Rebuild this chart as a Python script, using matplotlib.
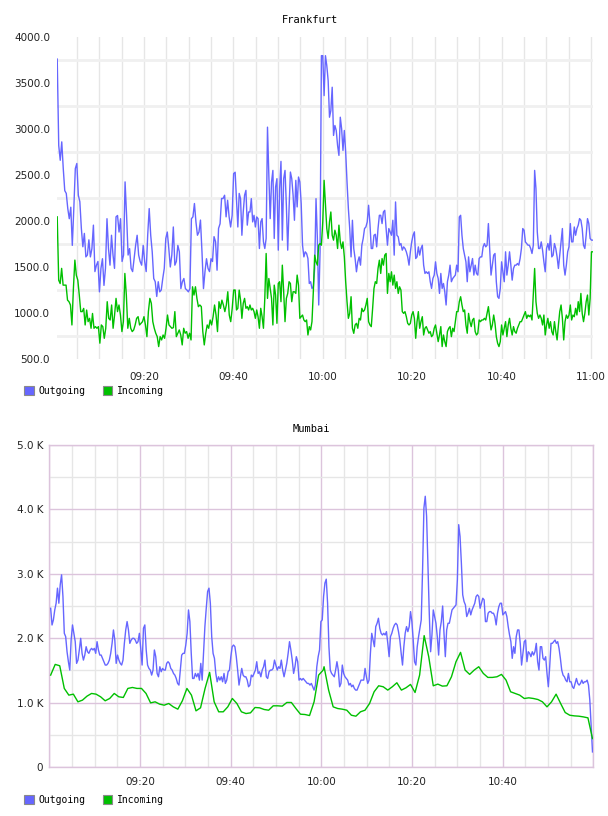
import numpy as np
import matplotlib
matplotlib.use("Agg")
import matplotlib.pyplot as plt
from matplotlib.patches import Patch
from matplotlib.ticker import FuncFormatter

# Frankfurt traffic, read in three stretches of the 09:00-11:00 window
fra_out_1 = [3760, 2820, 2660, 2860, 2570, 2330, 2300, 2135, 2025, 2150, 1735, 2135, 2570, 2625, 2280, 2210,
             1920, 1720, 1865, 1610, 1630, 1795, 1610, 1700, 1955, 1450, 1520, 1560, 1230, 1485, 1590, 1300,
             1485, 2025, 1700, 1520, 1845, 1630, 1485, 2045, 2060, 1880, 2025, 1560, 1630, 2425, 2060, 1630,
             1700, 1485, 1450, 1590, 1735, 1845, 1630, 1560, 1520, 1735, 1560, 1450, 1845, 2135, 1845, 1665,
             1375, 1340, 1180, 1340, 1230, 1250, 1375, 1485, 1810, 1880, 1700, 1500, 1630, 1935, 1520, 1560,
             1735, 1665, 1265, 1340, 1375, 1265, 1250, 1230, 1265, 2025, 2045, 2190, 1990, 1845, 1880, 2010,
             1665, 1265, 1450, 1590, 1485, 1450, 1590, 1560, 1830, 1775, 1465, 1920, 1970, 2245, 2245, 2280,
             2045, 2225, 2045, 1935, 2060, 2515, 2530]
fra_in_1 = [2045, 1357, 1320, 1485, 1303, 1303, 1303, 1140, 1123, 1087, 870, 1265, 1575, 1410, 1357, 1195,
            1015, 1015, 1050, 870, 1032, 906, 942, 834, 995, 834, 852, 834, 852, 672, 870, 852,
            725, 834, 1123, 942, 924, 1087, 834, 978, 1159, 1015, 1087, 978, 798, 906, 1430, 1195,
            834, 942, 834, 798, 816, 870, 942, 960, 870, 888, 906, 960, 870, 743, 1015, 1159,
            1105, 906, 834, 780, 743, 635, 743, 707, 761, 725, 834, 978, 870, 852, 834, 841,
            1015, 743, 780, 816, 761, 653, 834, 780, 798, 725, 780, 707, 1285, 1195, 1285, 1159,
            1069, 1087, 1069, 798, 653, 780, 870, 834, 924, 870, 960, 1087, 978, 798, 1123, 1050,
            1140, 1087, 1015, 1087, 1231, 978, 906, 1050, 1250, 1250]
fra_out_2 = [2530, 2243, 1935, 2300, 2243, 1845, 2098, 2280, 2333, 1955, 2098, 2098, 2243, 1990, 2062, 1935,
             2044, 2026, 1701, 1990, 2026, 1773, 1701, 1810, 3020, 2496, 2026, 2424, 2550, 1810, 2370, 2460,
             1683, 2352, 2648, 1792, 2460, 2550, 2171, 1683, 2135, 2532, 2460, 2280, 2008, 2442, 2153, 2478,
             2424, 2189, 1737, 1610, 1665, 1647, 1592, 1321, 1340, 1267, 1285, 1484, 2243, 1810, 1087, 1665,
             3797, 3797, 3363, 3797, 3688, 3526, 3128, 3200, 3454, 2930, 3038, 2984, 2821, 2713, 3128, 3002,
             2767, 2984, 2749, 2424, 2135, 1918, 1610, 2008, 1701, 1592, 1448, 1556, 1610, 1520, 1737, 1810,
             1918, 1935, 1990, 2171, 1972, 1701, 1701, 1845, 1856, 1719, 1918, 2062, 2062, 1972, 2098, 2116,
             1918, 1737, 1918, 1882, 1845, 2008, 1629, 2207, 1845, 1828, 1737, 1755, 1683, 1719, 1701, 1665,
             1610, 1520, 1665, 1773, 1845]
fra_in_2 = [1249, 1033, 1051, 1249, 1141, 942, 1105, 1159, 1051, 1069, 1033, 1087, 1033, 1051, 1015, 942,
            1033, 960, 834, 1051, 960, 834, 1159, 1647, 1159, 1375, 1267, 1159, 870, 1303, 1195, 888,
            1321, 1340, 1123, 1520, 1231, 906, 1159, 1213, 1340, 1321, 1123, 1231, 1231, 1213, 1412, 1303,
            942, 960, 978, 924, 906, 924, 761, 852, 816, 906, 1231, 1629, 1556, 1520, 1737, 1755,
            1737, 1990, 2442, 2171, 1918, 1810, 1990, 2098, 1845, 1792, 1900, 1845, 1701, 1955, 1773, 1701,
            1773, 1610, 1340, 1123, 942, 996, 1177, 834, 779, 870, 888, 834, 942, 924, 1051, 1015,
            1033, 1087, 1159, 906, 870, 852, 1051, 1267, 1340, 1321, 1484, 1574, 1430, 1592, 1520, 1629,
            1647, 1213, 1430, 1340, 1448, 1303, 1412, 1267, 1340, 1213, 1285, 1249, 1015, 996, 1015, 960,
            888, 870, 888, 978, 1015]
fra_out_3 = [1845, 1882, 1592, 1610, 1719, 1629, 1701, 1737, 1520, 1430, 1448, 1430, 1448, 1340, 1267, 1375,
             1412, 1556, 1430, 1375, 1213, 1430, 1267, 1321, 1231, 1087, 1340, 1412, 1520, 1340, 1375, 1394,
             1412, 1520, 1448, 2044, 2062, 1845, 1701, 1629, 1556, 1340, 1610, 1448, 1520, 1592, 1412, 1520,
             1430, 1412, 1592, 1610, 1610, 1719, 1755, 1719, 1737, 1972, 1701, 1412, 1520, 1629, 1647, 1340,
             1177, 1159, 1267, 1556, 1448, 1340, 1665, 1412, 1520, 1665, 1520, 1357, 1484, 1520, 1520, 1538,
             1520, 1592, 1701, 1918, 1900, 1773, 1755, 1737, 1737, 1701, 1647, 1737, 2550, 2352, 1882, 1701,
             1701, 1773, 1683, 1556, 1448, 1701, 1755, 1683, 1845, 1610, 1629, 1755, 1701, 1610, 1484, 1629,
             1773, 1918, 1520, 1412, 1520, 1665, 1719, 1972, 1773, 1773, 1935, 1845, 1918, 1955, 2026, 2008,
             1918, 1737, 1701, 1845, 2026, 1972, 1810, 1792, 1792]
fra_in_3 = [1015, 942, 725, 906, 1015, 834, 906, 960, 761, 834, 852, 816, 780, 798, 743, 761,
            834, 870, 780, 689, 761, 852, 635, 761, 689, 635, 798, 834, 852, 743, 834, 798,
            906, 1015, 1015, 1123, 1177, 1087, 1015, 1033, 870, 780, 996, 906, 852, 924, 942, 798,
            761, 780, 924, 906, 924, 924, 942, 924, 996, 1069, 942, 816, 870, 978, 888, 743,
            671, 635, 689, 870, 761, 834, 906, 743, 870, 942, 834, 761, 852, 798, 780, 834,
            870, 906, 906, 942, 978, 1015, 942, 978, 960, 978, 924, 1195, 1484, 1123, 996, 942,
            978, 942, 870, 978, 761, 870, 942, 834, 906, 798, 761, 906, 798, 707, 870, 1015,
            1087, 942, 707, 906, 978, 942, 978, 1087, 924, 978, 960, 1051, 978, 1123, 1015, 1213,
            996, 906, 996, 1123, 1195, 978, 1159, 1665, 1665]
# minutes after 09:00 covered by each stretch
fra_spans = [(0.6, 40.4), (40.4, 80.2), (80.2, 120.4)]

# Mumbai traffic, two stretches
mum_out_1 = [2465, 2205, 2284, 2439, 2543, 2777, 2543, 2829, 2984, 2647, 2076, 2024, 1790, 1635, 1505, 1972,
             2206, 2076, 1946, 1609, 1660, 1817, 1998, 1765, 1660, 1738, 1868, 1790, 1765, 1817, 1842, 1817,
             1842, 1765, 1946, 1817, 1738, 1738, 1687, 1635, 1583, 1583, 1609, 1660, 1765, 1920, 2128, 1972,
             1609, 1738, 1660, 1609, 1583, 1660, 1920, 2128, 2258, 2128, 1920, 1972, 1998, 1998, 1972, 1920,
             1946, 2076, 1842, 1583, 2154, 2206, 1817, 1583, 1531, 1505, 1427, 1505, 1817, 1713, 1453, 1401,
             1557, 1479, 1531, 1505, 1505, 1609, 1635, 1609, 1531, 1505, 1453, 1427, 1375, 1298, 1272, 1505,
             1738, 1765, 1765, 1894, 2076, 2439, 2258, 1765, 1375, 1375, 1453, 1401, 1453, 1349, 1609, 1349,
             1765, 2180, 2465, 2725, 2777, 2543, 2024, 1765, 1687, 1453, 1323, 1401, 1349, 1401, 1323, 1453,
             1298, 1349, 1479, 1505, 1713, 1868, 1894, 1868, 1713, 1505, 1272, 1401, 1531, 1427, 1401, 1401,
             1349, 1246, 1272, 1427, 1401, 1453, 1505, 1635, 1453, 1479, 1401, 1505, 1557, 1660, 1401, 1375,
             1479, 1505, 1505, 1531, 1660, 1583, 1505, 1557, 1531, 1660, 1505, 1401, 1505, 1609, 1765, 1946,
             1817, 1660, 1453, 1557, 1713, 1635, 1349, 1375, 1349, 1375, 1349, 1323, 1298, 1298, 1272, 1298,
             1246, 1194, 1272, 1557, 1713, 1817]
mum_out_2 = [2258, 2284, 2647, 2855, 2917, 2543, 1868, 1505, 1453, 1427, 1401, 1505, 1635, 1505, 1246, 1298,
             1583, 1453, 1401, 1375, 1349, 1272, 1298, 1246, 1272, 1220, 1194, 1194, 1246, 1298, 1349, 1349,
             1349, 1531, 1401, 1298, 1349, 1765, 2076, 1972, 1868, 2180, 2232, 2310, 2154, 2076, 2050, 2076,
             2050, 2102, 1920, 1713, 2024, 2076, 2154, 2206, 2232, 2206, 2102, 1972, 1765, 1583, 1868, 2076,
             2180, 2102, 2180, 2413, 2258, 1972, 1635, 1583, 1868, 2024, 2154, 2284, 3062, 4022, 4204, 3893,
             3114, 2388, 1790, 2050, 2439, 2336, 2232, 2024, 1738, 2128, 2258, 2500, 2076, 1713, 2128, 2232,
             2232, 2336, 2439, 2465, 2491, 2517, 2906, 3763, 3581, 3166, 2673, 2569, 2517, 2336, 2388, 2465,
             2362, 2439, 2491, 2543, 2647, 2673, 2647, 2465, 2543, 2621, 2595, 2258, 2258, 2388, 2413, 2413,
             2388, 2388, 2336, 2206, 2388, 2491, 2543, 2543, 2362, 2388, 2413, 2336, 2180, 2050, 1946, 1687,
             1868, 1765, 2024, 2128, 2128, 1920, 1583, 1765, 1946, 1972, 1635, 1790, 1765, 1713, 1790, 1738,
             1790, 1920, 1635, 1505, 1868, 1868, 1687, 1660, 1713, 1453, 1246, 1557, 1920, 1920, 1946, 1972,
             1920, 1946, 1842, 1687, 1505, 1427, 1401, 1349, 1323, 1453, 1323, 1323, 1246, 1220, 1298, 1375,
             1298, 1272, 1298, 1349, 1298, 1323, 1323, 1349, 1272, 1038, 623, 234]
mum_in_1 = [1427, 1593, 1572, 1220, 1116, 1131, 1012, 1038, 1100, 1142, 1131, 1090, 1028, 1064, 1142, 1090,
            1080, 1220, 1235, 1220, 1220, 1142, 996, 1012, 976, 960, 986, 934, 898, 1028, 1220, 1116,
            872, 919, 1220, 1469, 1012, 857, 857, 934, 1064, 986, 857, 830, 841, 924, 919, 893,
            882, 950, 950, 945, 1002, 1002, 908, 820, 815, 799, 1012, 1427, 1505]
mum_in_2 = [1557, 1194, 934, 908, 898, 882, 804, 789, 857, 882, 986, 1168, 1261, 1246, 1194, 1246,
            1308, 1194, 1230, 1282, 1157, 1427, 2040, 1713, 1261, 1287, 1256, 1261, 1401, 1635, 1780, 1505,
            1438, 1505, 1557, 1453, 1391, 1391, 1401, 1438, 1349, 1168, 1142, 1116, 1064, 1074, 1064, 1048,
            1012, 934, 1012, 1131, 986, 846, 804, 794, 789, 778, 763, 441]
mum_out_spans = [(0.3, 59.6), (59.9, 119.8)]
mum_in_spans = [(0.3, 60.4), (60.6, 119.8)]

fra_ticks = [20, 40, 60, 80, 100, 120]
fra_labels = ['09:20', '09:40', '10:00', '10:20', '10:40', '11:00']
mum_ticks = [0, 20, 40, 60, 80, 100, 120]
mum_labels = ['', '09:20', '09:40', '10:00', '10:20', '10:40', '']

OUT = '#6666ff'
IN = '#00c000'
MONO = 'DejaVu Sans Mono'


def stitch(parts, spans):
    t = np.concatenate([np.linspace(a, b, len(p)) for p, (a, b) in zip(parts, spans)])
    v = np.concatenate([np.asarray(p, dtype=float) for p in parts])
    return t, v


def legend(ax, x, y):
    hs = [Patch(facecolor=OUT, edgecolor='#8a8a8a', lw=0.8, label='Outgoing'),
          Patch(facecolor=IN, edgecolor='#8a8a8a', lw=0.8, label='Incoming')]
    ax.legend(handles=hs, loc='center left', bbox_to_anchor=(x, y), ncol=2, frameon=False,
              prop={'family': MONO, 'size': 7}, handlelength=1.0, handleheight=1.0,
              handletextpad=0.5, columnspacing=1.75, borderpad=0, borderaxespad=0)


W, H = 608, 816
fig = plt.figure(figsize=(W / 100, H / 100), dpi=100)

# ---- Frankfurt
ax1 = fig.add_axes([57 / W, 1 - 359 / H, 536 / W, 322 / H])
t, v = stitch([fra_out_1, fra_out_2, fra_out_3], fra_spans)
ax1.plot(t, v, color=OUT, lw=1.0, zorder=3)
t, v = stitch([fra_in_1, fra_in_2, fra_in_3], fra_spans)
ax1.plot(t, v, color=IN, lw=1.0, zorder=3)
ax1.set_xlim(0.55, 120.45)
ax1.set_ylim(500, 4000)
ax1.set_xticks(fra_ticks)
ax1.set_xticklabels(fra_labels)
ax1.set_xticks(np.arange(5, 121, 5), minor=True)
ax1.set_yticks(np.arange(500, 4001, 500))
ax1.set_yticks(np.arange(750, 4000, 500), minor=True)
ax1.yaxis.set_major_formatter(FuncFormatter(lambda y, p: '%.1f' % y))
ax1.grid(False)
ax1.grid(which='both', axis='x', color='#e6e6e6', lw=1.0)
ax1.grid(which='minor', axis='y', color='#f0f0f0', lw=2.0)
for s in ax1.spines.values():
    s.set_visible(False)
ax1.tick_params(which='both', length=0)
ax1.tick_params(axis='x', pad=9.5, labelsize=7.5, labelcolor='#222222')
ax1.tick_params(axis='y', pad=5, labelsize=7.5, labelcolor='#222222')
legend(ax1, (24 - 57) / 536, (359 - 391) / 322)
fig.text(310 / W, 1 - 20 / H, 'Frankfurt', ha='center', va='center', family=MONO, size=7.5)

# ---- Mumbai
ax2 = fig.add_axes([49.3 / W, 1 - 767 / H, 544.1 / W, 322 / H])
t, v = stitch([mum_out_1, mum_out_2], mum_out_spans)
ax2.plot(t, v, color=OUT, lw=1.0, zorder=3)
t, v = stitch([mum_in_1, mum_in_2], mum_in_spans)
ax2.plot(t, v, color=IN, lw=1.0, zorder=3)
ax2.set_xlim(0, 120)
ax2.set_ylim(0, 5000)
ax2.set_xticks(mum_ticks)
ax2.set_xticklabels(mum_labels)
ax2.set_xticks(np.arange(5, 120, 5), minor=True)
ax2.set_yticks(np.arange(0, 5001, 1000))
ax2.set_yticks(np.arange(500, 5000, 1000), minor=True)
ax2.yaxis.set_major_formatter(FuncFormatter(lambda y, p: '0' if y == 0 else '%.1f K' % (y / 1000)))
ax2.grid(which='major', color='#dcc4dc', lw=1.0)
ax2.grid(which='minor', color='#e6e6e6', lw=1.0)
for s in ax2.spines.values():
    s.set_color('#dcc4dc')
    s.set_linewidth(1.0)
ax2.tick_params(which='both', length=0)
ax2.tick_params(axis='x', pad=7.5, labelsize=7.5, labelcolor='#222222')
ax2.tick_params(axis='y', pad=4.5, labelsize=7.5, labelcolor='#222222')
legend(ax2, (24 - 49.3) / 544.1, (767 - 800) / 322)
fig.text(311 / W, 1 - 429 / H, 'Mumbai', ha='center', va='center', family=MONO, size=7.5)

fig.savefig('out.png', dpi=100)
